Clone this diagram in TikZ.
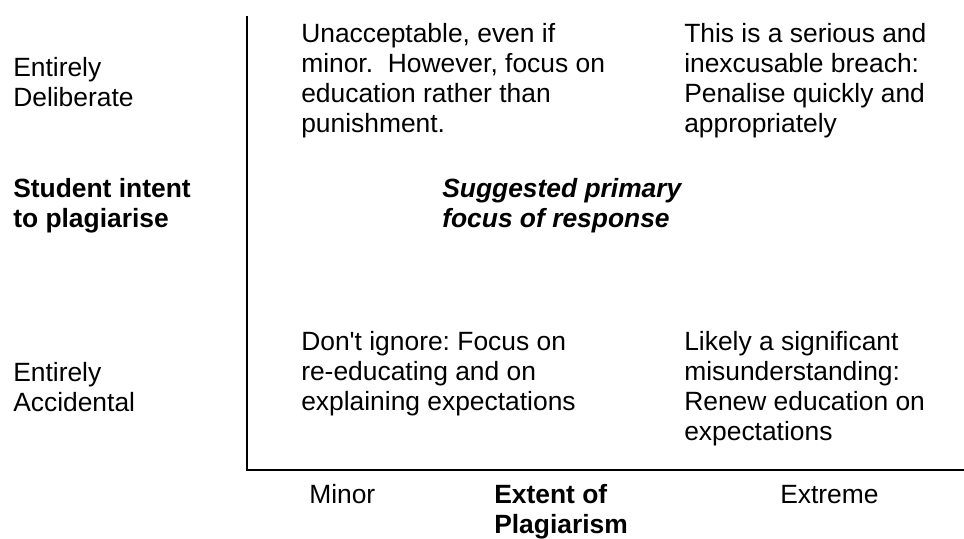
\documentclass[tikz,border=0pt]{standalone}
\usepackage{fontspec}
\setmainfont{Liberation Sans}
\frenchspacing
\begin{document}
\begin{tikzpicture}[x=0.75pt,y=-0.75pt,
  lbl/.style={anchor=base west, inner sep=0pt, align=left, font=\fontsize{19.8pt}{22.4pt}\selectfont},
  boldlbl/.style={lbl, font=\fontsize{19.8pt}{22.4pt}\selectfont\bfseries},
  bilbl/.style={lbl, font=\fontsize{19.8pt}{22.4pt}\selectfont\bfseries\itshape},
  axis/.style={line width=1.5pt}]
\useasboundingbox (0,0) rectangle (964,539);
\coordinate (origin) at (247,470);
\coordinate (ytop) at (247,16);
\coordinate (xend) at (964,470);
\draw[axis] (ytop) -- (origin) -- (xend);
% anchors are at the baseline of each block's last line
\node[lbl] (deliberate) at (13,106) {Entirely\\Deliberate};
\node[boldlbl] (intent) at (13,227) {Student intent\\to plagiarise};
\node[lbl] (accidental) at (13,411) {Entirely\\Accidental};
\node[lbl] (tl) at (301,132) {Unacceptable, even if\\minor.\ \ However, focus on\\education rather than\\punishment.};
\node[lbl] (tr) at (684,132) {This is a serious and\\inexcusable breach:\\Penalise quickly and\\appropriately};
\node[bilbl] (focus) at (442,227) {Suggested primary\\focus of response};
\node[lbl] (bl) at (301,410) {Don\textquotesingle t ignore: Focus on\\re-educating and on\\explaining expectations};
\node[lbl] (br) at (684,440) {Likely a significant\\misunderstanding:\\Renew education on\\expectations};
\node[lbl] (minor) at (309,503) {Minor};
\node[boldlbl] (extent) at (494,533) {Extent of\\Plagiarism};
\node[lbl] (extreme) at (780,503) {Extreme};
\end{tikzpicture}
\end{document}
